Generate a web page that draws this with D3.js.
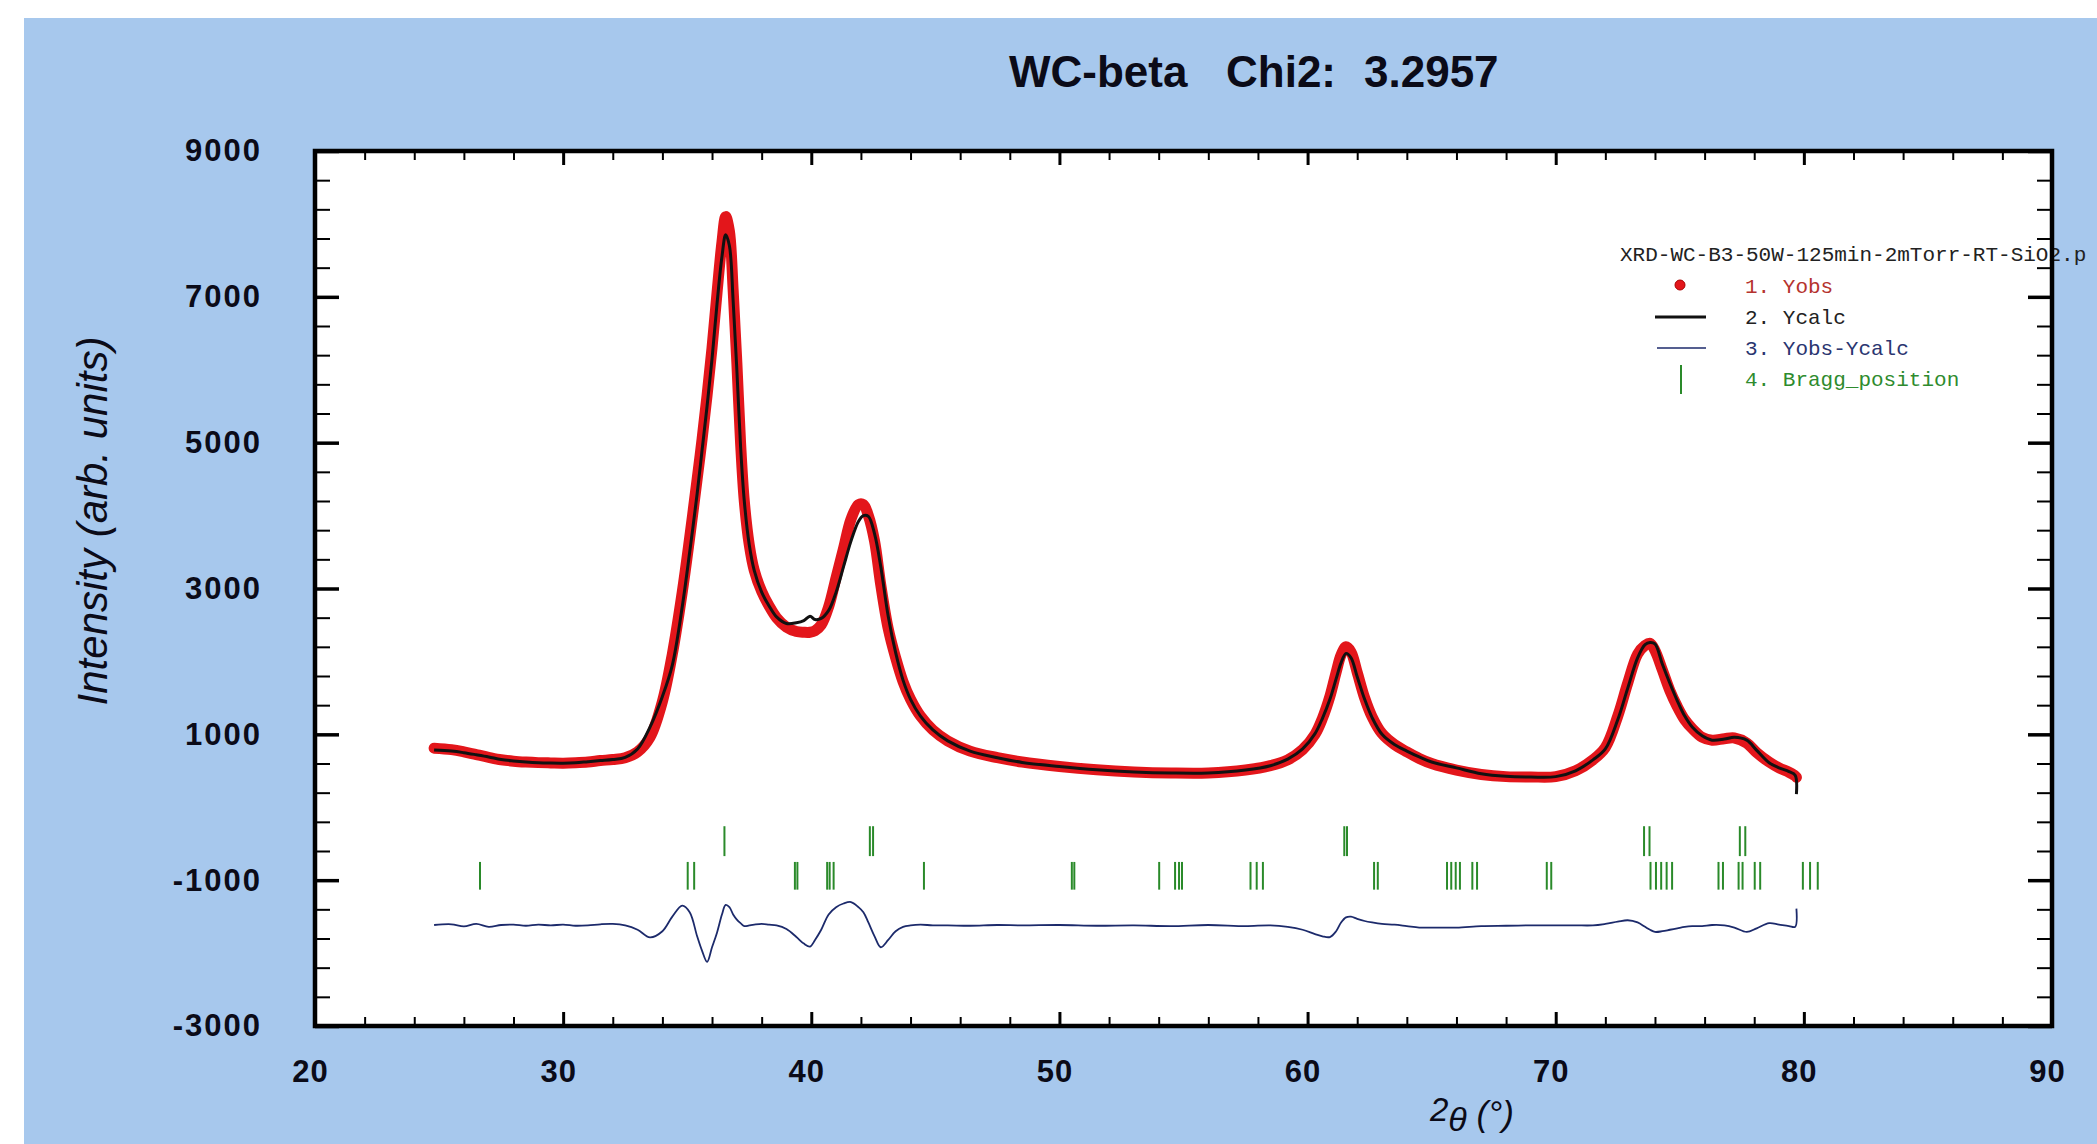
<!DOCTYPE html>
<html><head><meta charset="utf-8">
<script src="https://cdn.jsdelivr.net/npm/d3@7"></script>
<style>body{margin:0;background:#fff;} svg{display:block;}</style>
</head><body><svg id="c" width="2097" height="1144"></svg>
<script>
// ---------------- data ----------------
const twoTheta = [24.8,25.5,26.0,26.5,27.0,27.5,28.0,28.5,29.0,29.5,30.0,30.5,31.0,31.5,32.0,32.5,33.0,33.5,34.0,34.4,34.8,35.1,35.4,35.6,35.8,36.0,36.2,36.4,36.55,36.7,36.85,37.0,37.15,37.3,37.5,37.7,38.0,38.3,38.6,39.0,39.4,39.7,39.95,40.15,40.4,40.7,41.0,41.3,41.6,41.9,42.1,42.3,42.55,42.8,43.1,43.4,43.7,44.0,44.4,44.9,45.5,46.4,47.5,48.5,50.0,51.5,53.0,54.5,56.0,57.5,58.5,59.2,59.8,60.3,60.6,60.9,61.15,61.35,61.55,61.75,62.0,62.3,62.6,63.0,63.5,64.0,64.5,65.0,66.0,67.0,68.0,69.0,70.0,70.8,71.5,72.0,72.5,72.9,73.3,73.6,73.8,74.0,74.3,74.6,74.9,75.2,75.5,75.9,76.3,76.8,77.2,77.7,78.1,78.6,79.0,79.4,79.65,79.7];
const yObs = [810,790,760,722,685,652,632,620,612,608,605,610,620,640,655,680,760,960,1450,2100,2950,3700,4500,5050,5650,6300,7050,7750,8100,7900,7100,6100,5000,4200,3600,3250,2960,2760,2600,2470,2410,2400,2400,2420,2500,2750,3150,3550,3950,4150,4150,4000,3650,3050,2450,2050,1720,1480,1250,1060,910,770,680,620,560,515,485,470,470,510,570,650,790,1000,1220,1520,1850,2090,2200,2130,1850,1500,1240,1010,860,760,670,600,510,450,420,415,420,500,650,820,1250,1700,2100,2220,2250,2150,1880,1600,1380,1200,1080,960,920,940,950,880,750,620,540,480,430,410];
const yCalc = [785,770,748,720,690,655,635,620,610,606,605,610,625,640,655,685,800,1100,1520,1950,2750,3500,4300,4900,5500,6150,6900,7550,7850,7700,6950,6000,4950,4200,3600,3250,2950,2760,2610,2520,2530,2560,2620,2575,2590,2700,2950,3300,3650,3920,4000,3990,3750,3300,2620,2120,1740,1480,1250,1060,910,770,680,615,560,515,485,470,470,510,570,660,800,1010,1220,1480,1760,1980,2110,2050,1790,1480,1230,1000,860,770,690,620,540,460,425,415,420,500,650,800,1200,1630,2050,2230,2260,2240,1960,1700,1460,1250,1100,980,920,935,960,920,780,610,540,490,440,180];
const yDiff = [5,15,-15,20,-20,5,10,-5,10,0,10,-5,0,15,20,0,-60,-165,-80,120,270,180,-150,-350,-500,-300,-100,150,280,250,150,80,30,-10,0,10,20,10,0,-50,-160,-250,-290,-200,-60,150,250,300,320,250,180,40,-150,-300,-200,-80,-20,0,10,0,0,-5,5,0,5,-5,0,-10,5,-10,0,-20,-60,-120,-150,-160,-80,40,110,120,90,60,40,20,10,-10,-30,-30,-30,-10,-5,0,0,0,0,20,50,70,40,-20,-60,-90,-80,-60,-40,-20,-10,-10,5,0,-30,-90,-40,30,10,-10,-20,230];
const diffOffset = -1620;
const braggPhase1 = [36.5,42.36,42.49,61.48,61.59,73.56,73.78,77.42,77.64];
const braggPhase2 = [26.65,35.02,35.28,39.34,39.44,40.64,40.74,40.9,44.54,50.5,50.6,54.02,54.66,54.82,54.94,57.7,57.95,58.2,62.68,62.83,65.62,65.79,65.97,66.14,66.64,66.83,69.64,69.82,73.82,74.04,74.25,74.47,74.69,76.56,76.74,77.37,77.53,78.02,78.24,79.96,80.25,80.56];
const braggRow1 = [-260,-670];
const braggRow2 = [-750,-1130];
const xMajorTicks = [20,30,40,50,60,70,80,90];
const yMajorTicks = [-3000,-1000,1000,3000,5000,7000,9000];
const titleParts = ["WC-beta","Chi2:","3.2957"];
const legendFile = "XRD-WC-B3-50W-125min-2mTorr-RT-SiO2.p";
const legendLabels = ["1. Yobs","2. Ycalc","3. Yobs-Ycalc","4. Bragg_position"];

// ---------------- drawing ----------------
const W = 2097, H = 1144;
const svg = d3.select("#c");
const P = {left:315, right:2052, top:151, bottom:1026};
const x = d3.scaleLinear().domain([20,90]).range([P.left,P.right]);
const y = d3.scaleLinear().domain([-3000,9000]).range([P.bottom,P.top]);
const SANS = "'Liberation Sans', Arial, Helvetica, sans-serif";
const MONO = "'Liberation Mono', 'Courier New', monospace";

svg.append("rect").attr("x",0).attr("y",0).attr("width",W).attr("height",H).attr("fill","#ffffff");
svg.append("rect").attr("x",24).attr("y",18).attr("width",W-24).attr("height",H-18).attr("fill","#a7c8ed");
svg.append("rect").attr("x",P.left).attr("y",P.top).attr("width",P.right-P.left).attr("height",P.bottom-P.top).attr("fill","#ffffff");

// title
const titleX = [1009,1226,1364];
titleParts.forEach((t,i)=>{
  svg.append("text").attr("x",titleX[i]).attr("y",87).text(t)
    .attr("font-family",SANS).attr("font-weight","bold").attr("font-size",44).attr("fill","#0b0b18");
});

// Bragg ticks
const gB = svg.append("g").attr("stroke","#2a8a2a").attr("stroke-width",2);
gB.selectAll("line.b1").data(braggPhase1).join("line").attr("class","b1")
  .attr("x1",d=>x(d)).attr("x2",d=>x(d)).attr("y1",y(braggRow1[0])).attr("y2",y(braggRow1[1]));
gB.selectAll("line.b2").data(braggPhase2).join("line").attr("class","b2")
  .attr("x1",d=>x(d)).attr("x2",d=>x(d)).attr("y1",y(braggRow2[0])).attr("y2",y(braggRow2[1]));

const idx = d3.range(twoTheta.length);
const curve = d3.curveCatmullRom.alpha(0.5);
// difference
svg.append("path").datum(idx)
  .attr("d", d3.line().x(i=>x(twoTheta[i])).y(i=>y(yDiff[i]+diffOffset)).curve(curve))
  .attr("fill","none").attr("stroke","#1c2a6b").attr("stroke-width",1.8);
// observed (dense dots -> thick band)
svg.append("path").datum(idx)
  .attr("d", d3.line().x(i=>x(twoTheta[i])).y(i=>y(yObs[i])).curve(curve))
  .attr("fill","none").attr("stroke","#e3161b").attr("stroke-width",11)
  .attr("stroke-linecap","round").attr("stroke-linejoin","round");
// calculated
svg.append("path").datum(idx)
  .attr("d", d3.line().x(i=>x(twoTheta[i])).y(i=>y(yCalc[i])).curve(curve))
  .attr("fill","none").attr("stroke","#111111").attr("stroke-width",3);

// legend
svg.append("text").attr("x",1620).attr("y",261).text(legendFile)
  .attr("font-family",MONO).attr("font-size",21).attr("fill","#222");
const legColors = ["#b5332e","#222222","#2a3570","#2e8b2e"];
const legY = [293,324,355,386];
legendLabels.forEach((t,i)=>{
  svg.append("text").attr("x",1745).attr("y",legY[i]).text(t)
    .attr("font-family",MONO).attr("font-size",21).attr("fill",legColors[i]).style("white-space","pre");
});
svg.append("circle").attr("cx",1680).attr("cy",285).attr("r",5).attr("fill","#e3161b").attr("stroke","#a00").attr("stroke-width",1);
svg.append("line").attr("x1",1655).attr("x2",1706).attr("y1",317).attr("y2",317).attr("stroke","#111").attr("stroke-width",3);
svg.append("line").attr("x1",1657).attr("x2",1706).attr("y1",348).attr("y2",348).attr("stroke","#1c2a6b").attr("stroke-width",1.6);
svg.append("line").attr("x1",1681).attr("x2",1681).attr("y1",365).attr("y2",394).attr("stroke","#2a8a2a").attr("stroke-width",2);

// axes
const xMinor = d3.range(20,90.01,2).filter(v=>v%10!==0);
const yMinor = d3.range(-3000,9000.1,400).filter(v=>!yMajorTicks.includes(v));
const plain = d => String(d);
function styleAxis(g, w){ g.select(".domain").remove(); g.selectAll(".tick line").attr("stroke","#000").attr("stroke-width",w); }

const gxb = svg.append("g").attr("transform",`translate(0,${P.bottom})`)
  .call(d3.axisBottom(x).tickValues(xMajorTicks).tickSize(-14).tickPadding(34).tickFormat(plain));
styleAxis(gxb,3);
gxb.selectAll("text").attr("font-family",SANS).attr("font-weight","bold").attr("font-size",31).attr("fill","#0b0b18").attr("dx",-5).attr("letter-spacing",1);
styleAxis(svg.append("g").attr("transform",`translate(0,${P.bottom})`).call(d3.axisBottom(x).tickValues(xMinor).tickSize(-9).tickFormat("")),2);
styleAxis(svg.append("g").attr("transform",`translate(0,${P.top})`).call(d3.axisTop(x).tickValues(xMajorTicks).tickSize(-14).tickFormat("")),3);
styleAxis(svg.append("g").attr("transform",`translate(0,${P.top})`).call(d3.axisTop(x).tickValues(xMinor).tickSize(-9).tickFormat("")),2);

const gyl = svg.append("g").attr("transform",`translate(${P.left},0)`)
  .call(d3.axisLeft(y).tickValues(yMajorTicks).tickSize(-24).tickPadding(53).tickFormat(plain));
styleAxis(gyl,3.5);
gyl.selectAll("text").attr("font-family",SANS).attr("font-weight","bold").attr("font-size",31).attr("fill","#0b0b18").attr("letter-spacing",2);
styleAxis(svg.append("g").attr("transform",`translate(${P.left},0)`).call(d3.axisLeft(y).tickValues(yMinor).tickSize(-15).tickFormat("")),2);
styleAxis(svg.append("g").attr("transform",`translate(${P.right},0)`).call(d3.axisRight(y).tickValues(yMajorTicks).tickSize(-24).tickFormat("")),3.5);
styleAxis(svg.append("g").attr("transform",`translate(${P.right},0)`).call(d3.axisRight(y).tickValues(yMinor).tickSize(-15).tickFormat("")),2);

// frame
svg.append("rect").attr("x",P.left).attr("y",P.top).attr("width",P.right-P.left).attr("height",P.bottom-P.top)
  .attr("fill","none").attr("stroke","#000").attr("stroke-width",4.5);

// axis titles
svg.append("text").attr("transform","translate(107,521) rotate(-90)").attr("text-anchor","middle")
  .text("Intensity (arb. units)").attr("font-family",SANS).attr("font-style","italic").attr("font-size",42).attr("fill","#0b0b18");
const xt = svg.append("text").attr("x",1430).attr("y",1121).attr("font-family",SANS).attr("font-style","italic").attr("fill","#0b0b18");
xt.append("tspan").text("2").attr("font-size",33);
xt.append("tspan").text("θ").attr("font-size",34).attr("dy",10);
xt.append("tspan").text(" (°)").attr("font-size",35).attr("dy",-5);
</script></body></html>
